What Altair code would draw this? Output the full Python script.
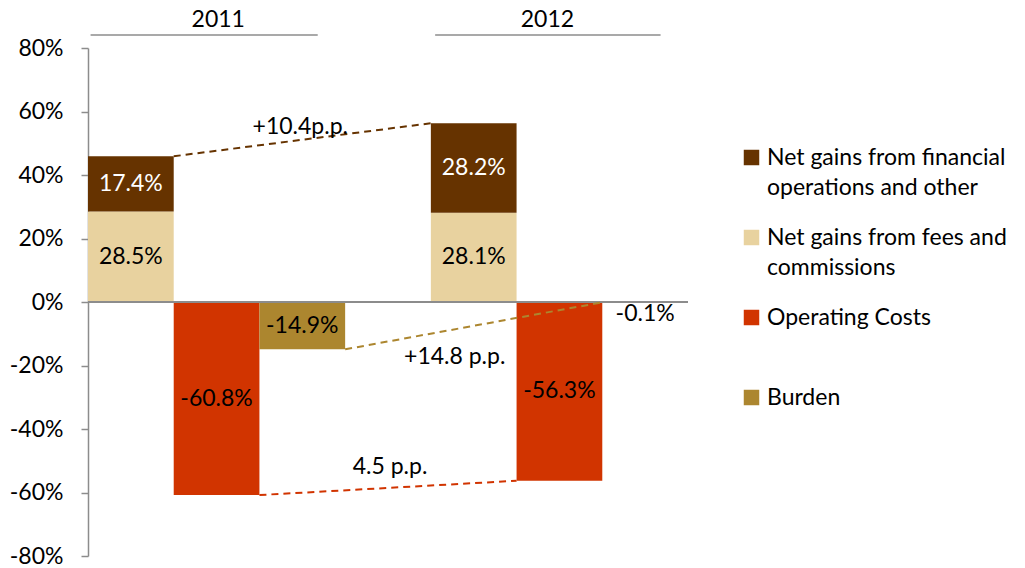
import altair as alt
import pandas as pd

# ---- values ----
years = ["2011", "2012"]
fin_other = [17.4, 28.2]      # net gains from financial operations and other
fees_comm = [28.5, 28.1]      # net gains from fees and commissions
op_costs = [-60.8, -56.3]     # operating costs
burden = [-14.9, -0.1]        # burden
series = [
    "Net gains from financial operations and other",
    "Net gains from fees and commissions",
    "Operating Costs",
    "Burden",
]
colors = ["#663300", "#E8D29F", "#D13400", "#AC862F"]
change_labels = ["+10.4p.p.", "+14.8 p.p.", "4.5 p.p."]
y_ticks = [-80, -60, -40, -20, 0, 20, 40, 60, 80]

FONT = "Lato"
FS = 23
GREY = "#8c8c8c"
SLOTS_PER_YEAR = 4          # income stack, costs, burden, gap
N_SLOTS = 7

# ---- bar table ----
rows = []
for k, yr in enumerate(years):
    b = k * SLOTS_PER_YEAR
    top = fees_comm[k] + fin_other[k]
    rows += [
        dict(year=yr, series=series[1], x0=b, x1=b + 1, y0=0, y1=fees_comm[k], value=fees_comm[k]),
        dict(year=yr, series=series[0], x0=b, x1=b + 1, y0=fees_comm[k], y1=top, value=fin_other[k]),
        dict(year=yr, series=series[2], x0=b + 1, x1=b + 2, y0=0, y1=op_costs[k], value=op_costs[k]),
        dict(year=yr, series=series[3], x0=b + 2, x1=b + 3, y0=0, y1=burden[k], value=burden[k]),
    ]
bars_df = pd.DataFrame(rows)
bars_df["label"] = bars_df["value"].map(lambda v: f"{v:.1f}%")
bars_df["ymid"] = (bars_df["y0"] + bars_df["y1"]) / 2
bars_df["xmid"] = (bars_df["x0"] + bars_df["x1"]) / 2

# ---- year-over-year connectors ----
conn_df = pd.DataFrame([
    dict(series=series[0], hex=colors[0], x0=1, x1=SLOTS_PER_YEAR,
         y0=fees_comm[0] + fin_other[0], y1=fees_comm[1] + fin_other[1], label=change_labels[0]),
    dict(series=series[3], hex=colors[3], x0=3, x1=SLOTS_PER_YEAR + 2,
         y0=burden[0], y1=burden[1], label=change_labels[1]),
    dict(series=series[2], hex=colors[2], x0=2, x1=SLOTS_PER_YEAR + 1,
         y0=op_costs[0], y1=op_costs[1], label=change_labels[2]),
])
conn_df["xm"] = (conn_df["x0"] + conn_df["x1"]) / 2
conn_df["ym"] = (conn_df["y0"] + conn_df["y1"]) / 2

# ---- year headers ----
head_df = pd.DataFrame(dict(year=years, xs=[0.03, 4.05], xe=[2.68, 6.68], xc=[1.52, 5.36]))

xs = alt.Scale(domain=[0, N_SLOTS], nice=False, zero=False)
ys = alt.Scale(domain=[-80, 80], nice=False, zero=False)

label_expr = (
    "datum.label == 'Net gains from financial operations and other' ? "
    "['Net gains from financial', 'operations and other'] : "
    "datum.label == 'Net gains from fees and commissions' ? "
    "['Net gains from fees and', 'commissions'] : datum.label"
)

bars = alt.Chart(bars_df).mark_rect().encode(
    x=alt.X("x0:Q", scale=xs, axis=None),
    x2="x1:Q",
    y=alt.Y("y0:Q", scale=ys, axis=alt.Axis(
        values=y_ticks, labelExpr="datum.value + '%'", title=None, grid=False,
        tickSize=7, labelPadding=18, domainColor=GREY, tickColor=GREY,
        domainWidth=1.5, tickWidth=1.5, labelFont=FONT, labelFontSize=FS,
        labelColor="black")),
    y2="y1:Q",
    color=alt.Color("series:N", scale=alt.Scale(domain=series, range=colors),
                    legend=alt.Legend(
                        title=None, orient="none", legendX=652, legendY=98,
                        symbolType="square", symbolSize=240, symbolStrokeWidth=0,
                        labelFont=FONT, labelFontSize=FS, labelColor="black",
                        labelExpr=label_expr, labelLimit=400, labelOffset=4,
                        gridAlign="all", rowPadding=26)),
)

zero_line = alt.Chart(bars_df).mark_rule(color=GREY, strokeWidth=1.5).encode(
    y=alt.datum(0), x=alt.value(0), x2=alt.value(600)
)

text_base = alt.Chart(bars_df).encode(
    x=alt.X("xmid:Q", scale=xs), text="label:N"
)
dark_text = text_base.transform_filter(
    (alt.datum.series == series[0])
).mark_text(font=FONT, fontSize=FS, color="white").encode(y=alt.Y("ymid:Q", scale=ys))
light_text = text_base.transform_filter(
    (alt.datum.series != series[0]) & (abs(alt.datum.value) >= 1)
).mark_text(font=FONT, fontSize=FS, color="black").encode(y=alt.Y("ymid:Q", scale=ys))
tiny_text = text_base.transform_filter(
    abs(alt.datum.value) < 1
).mark_text(font=FONT, fontSize=FS, color="black", baseline="top", dy=1).encode(
    y=alt.Y("y1:Q", scale=ys))

connectors = alt.Chart(conn_df).mark_rule(strokeDash=[7, 5], strokeWidth=2).encode(
    x=alt.X("x0:Q", scale=xs), x2="x1:Q",
    y=alt.Y("y0:Q", scale=ys), y2="y1:Q",
    stroke=alt.Stroke("hex:N", scale=None),
)

change_offsets = [(-2, -13), (-19, 31), (2, -21)]
change_texts = [
    alt.Chart(conn_df).transform_filter(alt.datum.label == lab)
    .mark_text(font=FONT, fontSize=FS, color="black", dx=dx, dy=dy)
    .encode(x=alt.X("xm:Q", scale=xs), y=alt.Y("ym:Q", scale=ys), text="label:N")
    for lab, (dx, dy) in zip(change_labels, change_offsets)
]

head_rules = alt.Chart(head_df).mark_rule(color=GREY, strokeWidth=1.5).encode(
    x=alt.X("xs:Q", scale=xs), x2="xe:Q", y=alt.value(-13)
)
head_text = alt.Chart(head_df).mark_text(font=FONT, fontSize=FS, color="black").encode(
    x=alt.X("xc:Q", scale=xs), y=alt.value(-28), text="year:N"
)

chart = alt.layer(
    bars, zero_line, dark_text, light_text, tiny_text, connectors,
    *change_texts, head_rules, head_text,
).properties(
    width=600, height=508,
    autosize=alt.AutoSizeParams(type="none"),
    padding={"left": 88, "top": 48, "right": 337, "bottom": 12},
).configure(
    background="white",
    style={"guide-label": {"lineHeight": 30}},
).configure_view(stroke=None)

chart.save("out.html", embed_options={"renderer": "svg", "actions": False})
